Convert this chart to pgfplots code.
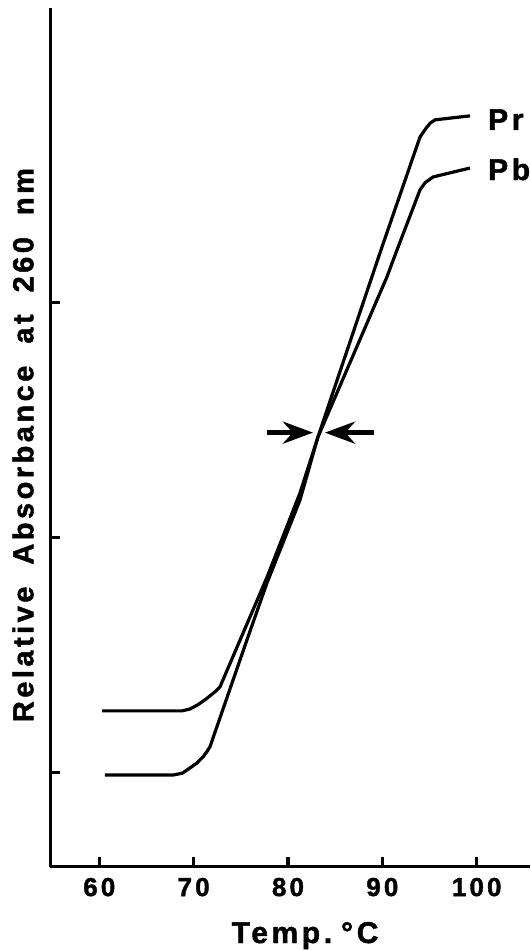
\documentclass[border=0pt]{standalone}
\usepackage{fontspec}
\setmainfont{Liberation Sans}
\newfontfamily\tickf[LetterSpace=12, FakeBold=1.5]{Liberation Sans Bold}
\newfontfamily\labf[LetterSpace=12, FakeBold=1.5]{Liberation Sans Bold}
\usepackage{pgfplots}
\pgfplotsset{compat=1.18}
\usetikzlibrary{arrows.meta}
\begin{document}
\begin{tikzpicture}
\begin{axis}[
  name=ax,
  scale only axis, width=479.5pt, height=858.7pt,
  xmin=54.83, xmax=105.65, ymin=0.599, ymax=4.253,
  axis x line*=bottom, axis y line*=left,
  axis line style={line width=2.5pt},
  xtick={60,70,80,90,100},
  ytick={1,2,3}, yticklabels={},
  tick align=inside,
  major tick length=10pt,
  tick style={line width=3.5pt, black},
  /pgf/number format/assume math mode=true,
  xticklabel style={font=\tickf\fontsize{26}{26}\selectfont, inner sep=0pt, yshift=-11pt, anchor=north},
  xlabel={Temp.\hspace{9pt}°C},
  xlabel style={font=\labf\fontsize{30}{30}\selectfont, at={(axis description cs:0.5308,0)}, anchor=base, yshift=-76.3pt, inner sep=0pt},
  ylabel={Relative\hspace{22pt}Absorbance\hspace{22pt}at\hspace{22pt}260\hspace{22pt}nm},
  ylabel style={font=\labf\fontsize{29}{29}\selectfont, at={(axis description cs:-0.0359,0.491)}, anchor=base, inner sep=0pt},
  clip=false,
]
% Pr
\addplot[black, line width=3.2pt, line join=round] coordinates {
(60.29,1.262) (68.77,1.262) (69.61,1.270) (70.40,1.287) (71.20,1.309) (72.26,1.343) (72.79,1.364)
(77.77,1.830) (81.27,2.189) (83.18,2.428) (89.75,3.211) (93.99,3.704)
(94.40,3.728) (94.74,3.747) (95.10,3.764) (95.58,3.777) (99.29,3.794)
};
% Pb
\addplot[black, line width=3.2pt, line join=round] coordinates {
(60.60,0.989) (67.81,0.989) (68.80,0.997) (69.61,1.019) (70.35,1.040) (70.99,1.066) (71.40,1.088) (71.73,1.109)
(75.65,1.564) (77.77,1.806) (81.27,2.159) (83.18,2.428) (90.49,3.109) (91.55,3.223)
(93.46,3.423) (93.99,3.479) (94.52,3.509) (95.37,3.534) (99.29,3.572)
};
% arrows
\addplot[black, line width=5pt, -{Stealth[length=30pt,width=22pt]}] coordinates {(77.74,2.446) (82.65,2.446)};
\addplot[black, line width=5pt, -{Stealth[length=30pt,width=22pt]}] coordinates {(89.11,2.446) (83.92,2.446)};
\node[font=\labf\fontsize{30}{30}\selectfont, anchor=base west, inner sep=0pt] at (axis cs:101.2,3.734) {Pr};
\node[font=\labf\fontsize{30}{30}\selectfont, anchor=base west, inner sep=0pt] at (axis cs:101.2,3.521) {Pb};
\end{axis}
\pgfresetboundingbox
\path ([shift={(-50.5pt,-83.3pt)}]ax.south west) rectangle ([shift={(0pt,8pt)}]ax.north east);
\end{tikzpicture}
\end{document}
